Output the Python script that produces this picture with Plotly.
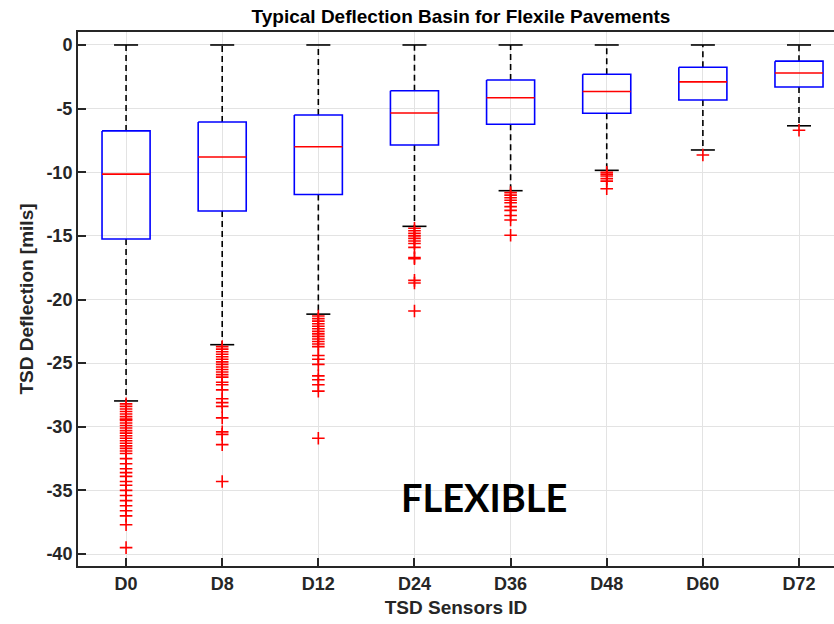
import plotly.graph_objects as go

# Sensor labels and box statistics (mils)
sensors = ["D0", "D8", "D12", "D24", "D36", "D48", "D60", "D72"]
q1 = [-15.25, -13.05, -11.75, -7.86, -6.23, -5.37, -4.32, -3.3]
median = [-10.15, -8.8, -8.0, -5.35, -4.15, -3.65, -2.9, -2.2]
q3 = [-6.75, -6.05, -5.5, -3.6, -2.75, -2.3, -1.75, -1.27]
upper_whisker = [0.0, 0.0, 0.0, 0.0, 0.0, 0.0, 0.0, 0.0]
lower_whisker = [-27.97, -23.55, -21.15, -14.25, -11.45, -9.85, -8.25, -6.35]

# Outlying deflections per sensor
out_d0 = [-28.2, -28.4, -28.6, -28.8, -29.0, -29.2, -29.4, -29.5, -29.7, -29.9,
          -30.1, -30.3, -30.5, -30.7, -30.9, -31.1, -31.3, -31.5, -31.7, -31.9,
          -32.1, -32.5, -32.9, -33.3, -33.6, -33.9, -34.3, -34.6, -35.0, -35.4,
          -35.8, -36.2, -36.6, -37.0, -37.7, -39.5]
out_d8 = [-23.7, -23.9, -24.1, -24.3, -24.5, -24.7, -24.9, -25.1, -25.3, -25.5,
          -25.7, -25.9, -26.1, -26.5, -26.7, -27.1, -27.8, -28.1, -28.4, -29.3,
          -30.4, -30.6, -31.4, -34.3]
out_d12 = [-21.3, -21.5, -21.7, -21.9, -22.1, -22.3, -22.5, -22.7, -22.9, -23.1,
           -23.3, -23.5, -23.7, -24.4, -24.7, -25.1, -26.0, -26.3, -26.7, -27.2,
           -30.9]
out_d24 = [-14.4, -14.6, -14.8, -15.0, -15.2, -15.4, -15.6, -15.9, -16.7, -16.8,
           -18.5, -18.7, -20.9]
out_d36 = [-11.6, -11.8, -12.0, -12.2, -12.4, -12.7, -13.0, -13.4, -13.75, -14.95]
out_d48 = [-10.0, -10.15, -10.3, -10.5, -10.7, -11.3]
out_d60 = [-8.65]
out_d72 = [-6.7]
outliers = [out_d0, out_d8, out_d12, out_d24, out_d36, out_d48, out_d60, out_d72]

y_ticks = [0, -5, -10, -15, -20, -25, -30, -35, -40]

BOX_HALF = 0.25
CAP_HALF = 0.125

box_x, box_y = [], []
med_x, med_y = [], []
wh_x, wh_y = [], []
cap_x, cap_y = [], []
for i in range(len(sensors)):
    c = i + 1
    box_x += [c - BOX_HALF, c + BOX_HALF, c + BOX_HALF, c - BOX_HALF, c - BOX_HALF, None]
    box_y += [q3[i], q3[i], q1[i], q1[i], q3[i], None]
    med_x += [c - BOX_HALF, c + BOX_HALF, None]
    med_y += [median[i], median[i], None]
    wh_x += [c, c, None, c, c, None]
    wh_y += [q3[i], upper_whisker[i], None, q1[i], lower_whisker[i], None]
    cap_x += [c - CAP_HALF, c + CAP_HALF, None, c - CAP_HALF, c + CAP_HALF, None]
    cap_y += [upper_whisker[i], upper_whisker[i], None, lower_whisker[i], lower_whisker[i], None]

out_x, out_y = [], []
for i, vals in enumerate(outliers):
    out_x += [i + 1] * len(vals)
    out_y += vals

fig = go.Figure()
fig.add_trace(go.Scatter(x=wh_x, y=wh_y, mode="lines",
                         line=dict(color="black", width=1.6, dash="6px,4px"),
                         hoverinfo="skip"))
fig.add_trace(go.Scatter(x=cap_x, y=cap_y, mode="lines",
                         line=dict(color="black", width=1.6), hoverinfo="skip"))
fig.add_trace(go.Scatter(x=box_x, y=box_y, mode="lines",
                         line=dict(color="#0000ff", width=1.6), hoverinfo="skip"))
fig.add_trace(go.Scatter(x=med_x, y=med_y, mode="lines",
                         line=dict(color="#ff0000", width=1.6), hoverinfo="skip"))
fig.add_trace(go.Scatter(x=out_x, y=out_y, mode="markers",
                         marker=dict(symbol="cross-thin", size=9,
                                     line=dict(color="#ff0000", width=1.6))))

tick_font = dict(family="Liberation Sans", size=18, color="#262626")
title_font = dict(family="Liberation Sans", size=19, color="#262626")
fig.update_layout(
    width=834, height=624,
    margin=dict(l=78, r=0, t=32, b=58),
    paper_bgcolor="white", plot_bgcolor="white",
    showlegend=False,
    title=dict(text="<b>Typical Deflection Basin for Flexile Pavements</b>",
               x=461 / 834, xanchor="center", y=1 - 16 / 624, yanchor="middle",
               font=dict(family="Liberation Sans", size=19, color="black")),
    xaxis=dict(range=[0.5, 8 + 35 / 96.13], tickmode="array",
               tickvals=list(range(1, len(sensors) + 1)),
               ticktext=[f"<b>{s}</b>" for s in sensors],
               tickfont=tick_font, ticks="inside", ticklen=8, tickwidth=1.5,
               tickcolor="#262626", showline=True, linecolor="#262626",
               linewidth=2, mirror=True, showgrid=True, gridcolor="#e3e3e3",
               gridwidth=1, zeroline=False,
               title=dict(text="<b>TSD Sensors ID</b>", font=title_font, standoff=8)),
    yaxis=dict(range=[-40.94, 1.02], tickmode="array",
               tickvals=y_ticks,
               ticktext=[f"<b>{v}</b>" for v in y_ticks],
               tickfont=tick_font, ticks="inside", ticklen=8, tickwidth=1.5,
               tickcolor="#262626", showline=True, linecolor="#262626",
               linewidth=2, mirror=False, showgrid=True, gridcolor="#e3e3e3",
               gridwidth=1, zeroline=False,
               title=dict(text="<b>TSD Deflection [mils]</b>", font=title_font, standoff=8)),
    annotations=[dict(text="<b>FLEXIBLE</b>", x=4.72, y=-35.5, xref="x", yref="y",
                      showarrow=False, xanchor="center", yanchor="middle",
                      font=dict(family="Lato", size=38, color="black"))],
)

fig.write_html("out.html")
